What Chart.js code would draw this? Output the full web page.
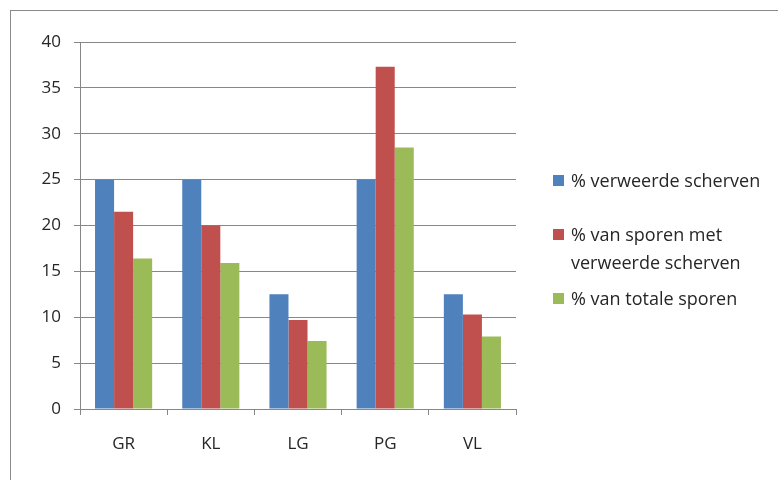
<!DOCTYPE html>
<html>
<head>
<meta charset="utf-8">
<script src="https://cdn.jsdelivr.net/npm/chart.js@4/dist/chart.umd.min.js"></script>
<style>
  body { margin: 0; background: #fff; }
  #wrap { position: relative; width: 778px; height: 480px; overflow: hidden; }
  #frame { position: absolute; left: 10px; top: 10px; width: 800px; height: 500px; border: 1px solid #8a8a8a; }
  canvas { position: absolute; left: 0; top: 0; }
  #legend { position: absolute; left: 553px; top: 170px; font-family: "Open Sans", sans-serif; font-size: 18px; color: #262626; }
  .item { position: absolute; left: 0; white-space: nowrap; line-height: 28px; }
  .sw { position: absolute; left: 0; top: 9px; width: 11px; height: 11px; }
  .txt { position: absolute; left: 18px; top: 0; }
</style>
</head>
<body>
<div id="wrap">
  <div id="frame"></div>
  <canvas id="c" width="778" height="480"></canvas>
  <div id="legend"></div>
</div>
<script>
// categories and series
const categories = ['GR', 'KL', 'LG', 'PG', 'VL'];
const weathered = [25, 25, 12.5, 25, 12.5];
const tracesWithWeathered = [21.5, 20, 9.7, 37.3, 10.3];
const totalTraces = [16.4, 15.9, 7.4, 28.5, 7.9];
const yTicks = [0, 5, 10, 15, 20, 25, 30, 35, 40];

const seriesLabels = [
    ['% verweerde scherven'],
    ['% van sporen met', 'verweerde scherven'],
    ['% van totale sporen']
];
const seriesColors = ['#4F81BD', '#C0504D', '#9BBB59'];
const legendTops = [-4, 50, 114];

const FONT = { family: '"Open Sans", sans-serif', size: 17 };

const chart = new Chart(document.getElementById('c'), {
    type: 'bar',
    data: {
        labels: categories,
        datasets: [weathered, tracesWithWeathered, totalTraces].map((d, i) => ({
            label: seriesLabels[i].join(' '),
            data: d,
            backgroundColor: seriesColors[i],
            borderWidth: 0,
            barPercentage: 1,
            categoryPercentage: 0.655
        }))
    },
    options: {
        responsive: false,
        animation: false,
        layout: { padding: { left: 0, right: 262, top: 42, bottom: 0 } },
        plugins: { legend: { display: false }, tooltip: { enabled: false } },
        scales: {
            x: {
                afterFit: s => { s.height = 71; },
                grid: {
                    offset: true,
                    drawOnChartArea: false,
                    drawTicks: true,
                    tickLength: 6,
                    color: '#878787'
                },
                border: { color: '#878787' },
                ticks: { color: '#262626', font: FONT, padding: 19 }
            },
            y: {
                min: 0,
                max: 40,
                afterFit: s => { s.width = 80; },
                afterBuildTicks: s => { s.ticks = yTicks.map(v => ({ value: v })); },
                grid: { color: '#878787', tickLength: 6 },
                border: { color: '#878787' },
                ticks: { color: '#262626', font: FONT, padding: 13 }
            }
        }
    }
});

// legend on the right, Excel style
const legend = document.getElementById('legend');
seriesLabels.forEach((lines, i) => {
    const item = document.createElement('div');
    item.className = 'item';
    item.style.top = legendTops[i] + 'px';
    item.innerHTML = '<span class="sw" style="background:' + seriesColors[i] + '"></span>' +
        '<span class="txt">' + lines.join('<br>') + '</span>';
    legend.appendChild(item);
});
</script>
</body>
</html>
